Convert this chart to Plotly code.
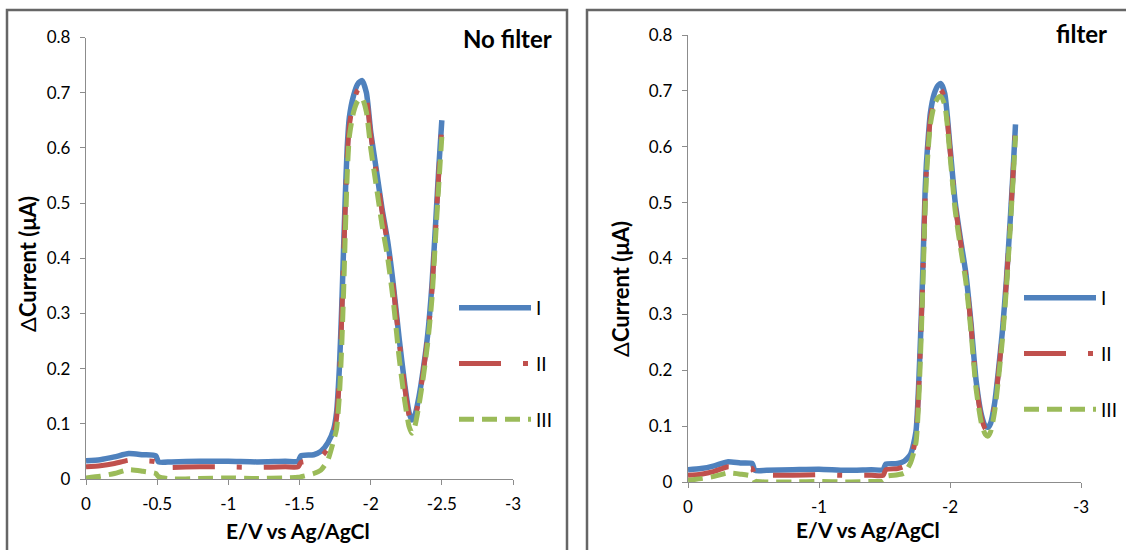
import plotly.graph_objects as go

# ---------------- data ----------------
x_nofilter = [0, -0.1, -0.2, -0.3, -0.4, -0.49, -0.51, -0.6, -0.8, -1.0, -1.2, -1.4, -1.49, -1.51,
              -1.6, -1.65, -1.7, -1.74, -1.76, -1.78, -1.795, -1.81, -1.82, -1.835, -1.85, -1.88,
              -1.91, -1.94, -1.97, -2.0, -2.04, -2.08, -2.12, -2.16, -2.2, -2.24, -2.27, -2.29,
              -2.31, -2.34, -2.37, -2.4, -2.43, -2.46, -2.48, -2.5]
nf_I = [0.033, 0.035, 0.040, 0.046, 0.044, 0.042, 0.031, 0.031, 0.032, 0.032, 0.031, 0.032, 0.032, 0.042,
        0.044, 0.050, 0.066, 0.09, 0.12, 0.20, 0.30, 0.42, 0.50, 0.60, 0.655, 0.695,
        0.716, 0.722, 0.70, 0.63, 0.56, 0.49, 0.43, 0.35, 0.255, 0.17, 0.12, 0.107,
        0.115, 0.15, 0.20, 0.26, 0.35, 0.48, 0.57, 0.65]
nf_II = [0.022, 0.024, 0.028, 0.034, 0.033, 0.031, 0.021, 0.021, 0.022, 0.022, 0.021, 0.022, 0.022, 0.030,
         0.034, 0.040, 0.055, 0.08, 0.11, 0.18, 0.28, 0.40, 0.48, 0.58, 0.64, 0.685,
         0.705, 0.71, 0.69, 0.625, 0.555, 0.485, 0.425, 0.345, 0.25, 0.165, 0.115, 0.101,
         0.11, 0.145, 0.195, 0.255, 0.34, 0.47, 0.56, 0.64]
nf_III = [0.002, 0.005, 0.010, 0.017, 0.014, 0.010, 0.004, 0.0, 0.001, 0.002, 0.001, 0.002, 0.003, 0.004,
          0.010, 0.016, 0.035, 0.07, 0.09, 0.15, 0.23, 0.34, 0.43, 0.55, 0.62, 0.665,
          0.685, 0.69, 0.665, 0.60, 0.53, 0.46, 0.40, 0.32, 0.22, 0.14, 0.095, 0.083,
          0.095, 0.135, 0.185, 0.245, 0.325, 0.455, 0.54, 0.62]

x_filter = [0, -0.1, -0.2, -0.3, -0.4, -0.49, -0.51, -0.6, -0.8, -1.0, -1.2, -1.4, -1.49, -1.51,
            -1.6, -1.65, -1.7, -1.74, -1.76, -1.78, -1.795, -1.81, -1.82, -1.835, -1.85, -1.88,
            -1.91, -1.93, -1.96, -2.0, -2.04, -2.08, -2.12, -2.16, -2.2, -2.24, -2.27, -2.29,
            -2.31, -2.34, -2.37, -2.4, -2.43, -2.46, -2.48, -2.5]
f_I = [0.022, 0.024, 0.029, 0.036, 0.034, 0.033, 0.021, 0.021, 0.022, 0.023, 0.021, 0.022, 0.022, 0.032,
       0.033, 0.037, 0.05, 0.09, 0.17, 0.29, 0.40, 0.52, 0.57, 0.62, 0.66, 0.695,
       0.71, 0.713, 0.695, 0.60, 0.50, 0.435, 0.375, 0.285, 0.18, 0.12, 0.10, 0.098,
       0.105, 0.14, 0.20, 0.27, 0.36, 0.47, 0.55, 0.64]
f_II = [0.012, 0.014, 0.019, 0.027, 0.025, 0.024, 0.012, 0.012, 0.012, 0.013, 0.012, 0.012, 0.012, 0.022,
        0.024, 0.028, 0.042, 0.08, 0.16, 0.28, 0.39, 0.51, 0.56, 0.61, 0.65, 0.685,
        0.70, 0.702, 0.685, 0.595, 0.495, 0.43, 0.37, 0.28, 0.175, 0.115, 0.095, 0.093,
        0.10, 0.135, 0.195, 0.265, 0.355, 0.465, 0.545, 0.635]
f_III = [0.003, 0.006, 0.010, 0.016, 0.014, 0.010, 0.002, 0.0, 0.0, 0.001, 0.0, 0.001, 0.002, 0.010,
         0.013, 0.016, 0.035, 0.07, 0.14, 0.26, 0.37, 0.49, 0.545, 0.60, 0.64, 0.675,
         0.688, 0.69, 0.675, 0.585, 0.485, 0.42, 0.36, 0.27, 0.165, 0.105, 0.085, 0.082,
         0.09, 0.125, 0.185, 0.255, 0.345, 0.455, 0.535, 0.62]

series_names = ["I", "II", "III"]
panel_titles = ["No filter", "filter"]
x_title = "E/V vs Ag/AgCl"
y_title = "Δ<b>Current (μA)</b>"

x_tickvals_nf = [0, -0.5, -1, -1.5, -2, -2.5, -3]
x_ticktext_nf = ["0", "-0.5", "-1", "-1.5", "-2", "-2.5", "-3"]
x_tickvals_f = [0, -1, -2, -3]
x_ticktext_f = ["0", "-1", "-2", "-3"]
y_tickvals = [0, 0.1, 0.2, 0.3, 0.4, 0.5, 0.6, 0.7, 0.8]
y_ticktext = ["0", "0.1", "0.2", "0.3", "0.4", "0.5", "0.6", "0.7", "0.8"]

# ---------------- styling ----------------
W, H = 1126, 550
FONT = "Lato, 'Open Sans', sans-serif"
colors = ["#4F81BD", "#C0504D", "#9BBB59"]
dashes = ["solid", "42px,22px,5px,22px", "15px,8px"]
widths = [5.5, 5, 5]

def px(x):
    return x / W

def py(y):
    return 1 - y / H

fig = go.Figure()

panels = [
    (x_nofilter, [nf_I, nf_II, nf_III], "x", "y", "legend"),
    (x_filter, [f_I, f_II, f_III], "x2", "y2", "legend2"),
]
for xs, ys_list, xa, ya, lg in panels:
    for name, ys, c, d, w in zip(series_names, ys_list, colors, dashes, widths):
        fig.add_trace(go.Scatter(
            x=xs, y=ys, mode="lines", name=name, xaxis=xa, yaxis=ya, legend=lg,
            legendgroup=lg + name,
            line=dict(color=c, width=w, dash=d, shape="spline", smoothing=0.6),
            hoverinfo="skip"))

axis_common = dict(showgrid=False, zeroline=False, showline=True, linecolor="#8c8c8c",
                   linewidth=1.3, ticks="outside", tickcolor="#8c8c8c", ticklen=5,
                   tickwidth=1.3, automargin=False,
                   tickfont=dict(family=FONT, size=17, color="#000"))

legend_common = dict(xanchor="left", yanchor="top",
                     font=dict(family=FONT, size=19, color="#000"), bgcolor="rgba(0,0,0,0)",
                     itemwidth=72, tracegroupgap=28, traceorder="grouped")

fig.update_layout(
    width=W, height=H, margin=dict(l=0, r=0, t=0, b=0, pad=0, autoexpand=False),
    paper_bgcolor="white", plot_bgcolor="white",
    showlegend=True,
    xaxis=dict(domain=[px(86), px(513)], range=[0, -3], tickvals=x_tickvals_nf,
               ticktext=x_ticktext_nf, anchor="y", ticklabelstandoff=4, **axis_common),
    yaxis=dict(domain=[py(479), py(37.5)], range=[0, 0.8], tickvals=y_tickvals,
               ticktext=y_ticktext, anchor="x", ticklabelstandoff=6, **axis_common),
    xaxis2=dict(domain=[px(688), px(1081)], range=[0, -3], tickvals=x_tickvals_f,
                ticktext=x_ticktext_f, anchor="y2", ticklabelstandoff=4, **axis_common),
    yaxis2=dict(domain=[py(482), py(35)], range=[0, 0.8], tickvals=y_tickvals,
                ticktext=y_ticktext, anchor="x2", ticklabelstandoff=6, **axis_common),
    legend=dict(x=px(454), y=py(289), **legend_common),
    legend2=dict(x=px(1019), y=py(279), **legend_common),
)

# panel frames
fig.add_shape(type="rect", xref="paper", yref="paper", x0=px(7), x1=px(567), y0=py(560), y1=py(10),
              line=dict(color="#666666", width=2.5), layer="below")
fig.add_shape(type="rect", xref="paper", yref="paper", x0=px(587), x1=px(1140), y0=py(560), y1=py(10),
              line=dict(color="#666666", width=2.5), layer="below")

annots = [
    dict(text="<b>" + panel_titles[0] + "</b>", x=px(507), y=py(38), size=24),
    dict(text="<b>" + panel_titles[1] + "</b>", x=px(1081), y=py(33), size=24),
    dict(text="<b>" + x_title + "</b>", x=px(298), y=py(530), size=21),
    dict(text="<b>" + x_title + "</b>", x=px(868), y=py(529), size=21),
]
for a in annots:
    fig.add_annotation(text=a["text"], x=a["x"], y=a["y"], xref="paper", yref="paper",
                       showarrow=False, xanchor="center", yanchor="middle",
                       font=dict(family=FONT, size=a["size"], color="#000"))
for xx, yy in [(27, 264), (620, 289)]:
    fig.add_annotation(text=y_title, x=px(xx), y=py(yy), xref="paper", yref="paper",
                       showarrow=False, textangle=-90, xanchor="center", yanchor="middle",
                       font=dict(family=FONT, size=22, color="#000"))

fig.write_html("out.html")
